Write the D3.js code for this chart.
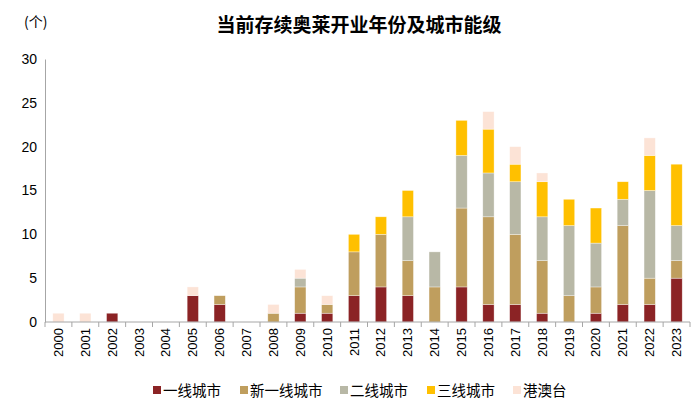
<!DOCTYPE html>
<html>
<head>
<meta charset="utf-8">
<script src="https://cdn.jsdelivr.net/npm/d3@7/dist/d3.min.js"></script>
<style>
  body { margin: 0; background: #fff; }
  svg { font-family: "Liberation Sans", Arial, "Noto Sans CJK SC", sans-serif; }
</style>
</head>
<body>
<svg id="chart" width="700" height="415"></svg>
<script>
// categories and series
const years = ['2000','2001','2002','2003','2004','2005','2006','2007','2008','2009','2010','2011',
               '2012','2013','2014','2015','2016','2017','2018','2019','2020','2021','2022','2023'];
const seriesNames = ['一线城市', '新一线城市', '二线城市', '三线城市', '港澳台'];
const tier1    = [0,0,1,0,0,3,2,0,0,1,1,3,4,3,0,4,2,2,1,0,1,2,2,5];
const newTier1 = [0,0,0,0,0,0,1,0,1,3,1,5,6,4,4,9,10,8,6,3,3,9,3,2];
const tier2    = [0,0,0,0,0,0,0,0,0,1,0,0,0,5,4,6,5,6,5,8,5,3,10,4];
const tier3    = [0,0,0,0,0,0,0,0,0,0,0,2,2,3,0,4,5,2,4,3,4,2,4,7];
const hmt      = [1,1,0,0,0,1,0,0,1,1,1,0,0,0,0,0,2,2,1,0,0,0,2,0];
const yTicks = [0, 5, 10, 15, 20, 25, 30];
const colors = ['#8B2325', '#BF9E5E', '#B8B8A6', '#FFC000', '#FCE3D6'];

const svg = d3.select('#chart');
const margin = { left: 45, right: 10, top: 59, bottom: 93 };
const W = +svg.attr('width'), H = +svg.attr('height');

const rows = years.map((y, i) => ({
    year: y,
    '一线城市': tier1[i], '新一线城市': newTier1[i], '二线城市': tier2[i],
    '三线城市': tier3[i], '港澳台': hmt[i]
}));
const stack = d3.stack().keys(seriesNames)(rows);

const x = d3.scaleBand()
    .domain(years)
    .range([margin.left, W - margin.right])
    .paddingInner(0.58)
    .paddingOuter(0.29);
const y = d3.scaleLinear()
    .domain([0, 30])
    .range([H - margin.bottom, margin.top]);

/**
 * Title and unit
 */
svg.append('text')
    .attr('x', 359).attr('y', 32)
    .attr('text-anchor', 'middle')
    .style('font-family', '"Noto Sans CJK SC", sans-serif')
    .style('font-size', '19px')
    .style('font-weight', 'bold')
    .text('当前存续奥莱开业年份及城市能级');

svg.append('text')
    .attr('x', 24).attr('y', 27)
    .style('font-family', '"Noto Sans CJK SC", sans-serif')
    .style('font-size', '14px')
    .text('(个)');

/**
 * Bars
 */
svg.append('g').selectAll('g')
    .data(stack)
    .join('g')
    .attr('fill', (d, i) => colors[i])
    .selectAll('rect')
    .data(d => d.filter(s => s[1] - s[0] > 0))
    .join('rect')
    .attr('x', d => x(d.data.year))
    .attr('y', d => y(d[1]))
    .attr('width', x.bandwidth())
    .attr('height', d => y(d[0]) - y(d[1]))
    .attr('stroke', '#fff')
    .attr('stroke-opacity', 0.6)
    .attr('stroke-width', 0.6);

/**
 * Y axis: line only, no ticks
 */
const yAxis = svg.append('g')
    .attr('transform', `translate(${margin.left},0)`)
    .call(d3.axisLeft(y).tickValues(yTicks).tickSize(0).tickPadding(8));
yAxis.select('.domain').attr('stroke', '#a6a6a6');
yAxis.selectAll('text')
    .style('font-size', '14px')
    .attr('fill', '#000');

/**
 * X axis: ticks at category boundaries
 */
const xAxis = svg.append('g')
    .attr('transform', `translate(0,${H - margin.bottom})`);
xAxis.append('line')
    .attr('x1', margin.left).attr('x2', W - margin.right)
    .attr('y1', 0).attr('y2', 0)
    .attr('stroke', '#a6a6a6');
const bounds = d3.range(years.length + 1).map(i => margin.left + i * (W - margin.left - margin.right) / years.length);
xAxis.selectAll('.tk')
    .data(bounds)
    .join('line')
    .attr('class', 'tk')
    .attr('x1', d => d).attr('x2', d => d)
    .attr('y1', 0).attr('y2', 5)
    .attr('stroke', '#a6a6a6');
xAxis.selectAll('.lbl')
    .data(years)
    .join('text')
    .attr('class', 'lbl')
    .attr('transform', d => `translate(${x(d) + x.bandwidth() / 2 + 4.5},6) rotate(-90)`)
    .attr('text-anchor', 'end')
    .style('font-size', '13px')
    .text(d => d);

/**
 * Legend
 */
const legendX = [153, 240, 340, 427, 513];
const legend = svg.append('g').selectAll('g')
    .data(seriesNames)
    .join('g')
    .attr('transform', (d, i) => `translate(${legendX[i]},390)`);
legend.append('rect')
    .attr('x', 0).attr('y', -4)
    .attr('width', 8).attr('height', 8)
    .attr('fill', (d, i) => colors[i]);
legend.append('text')
    .attr('x', 10).attr('y', 5.5)
    .style('font-family', '"Noto Sans CJK SC", sans-serif')
    .style('font-size', '14.5px')
    .text(d => d);
</script>
</body>
</html>
